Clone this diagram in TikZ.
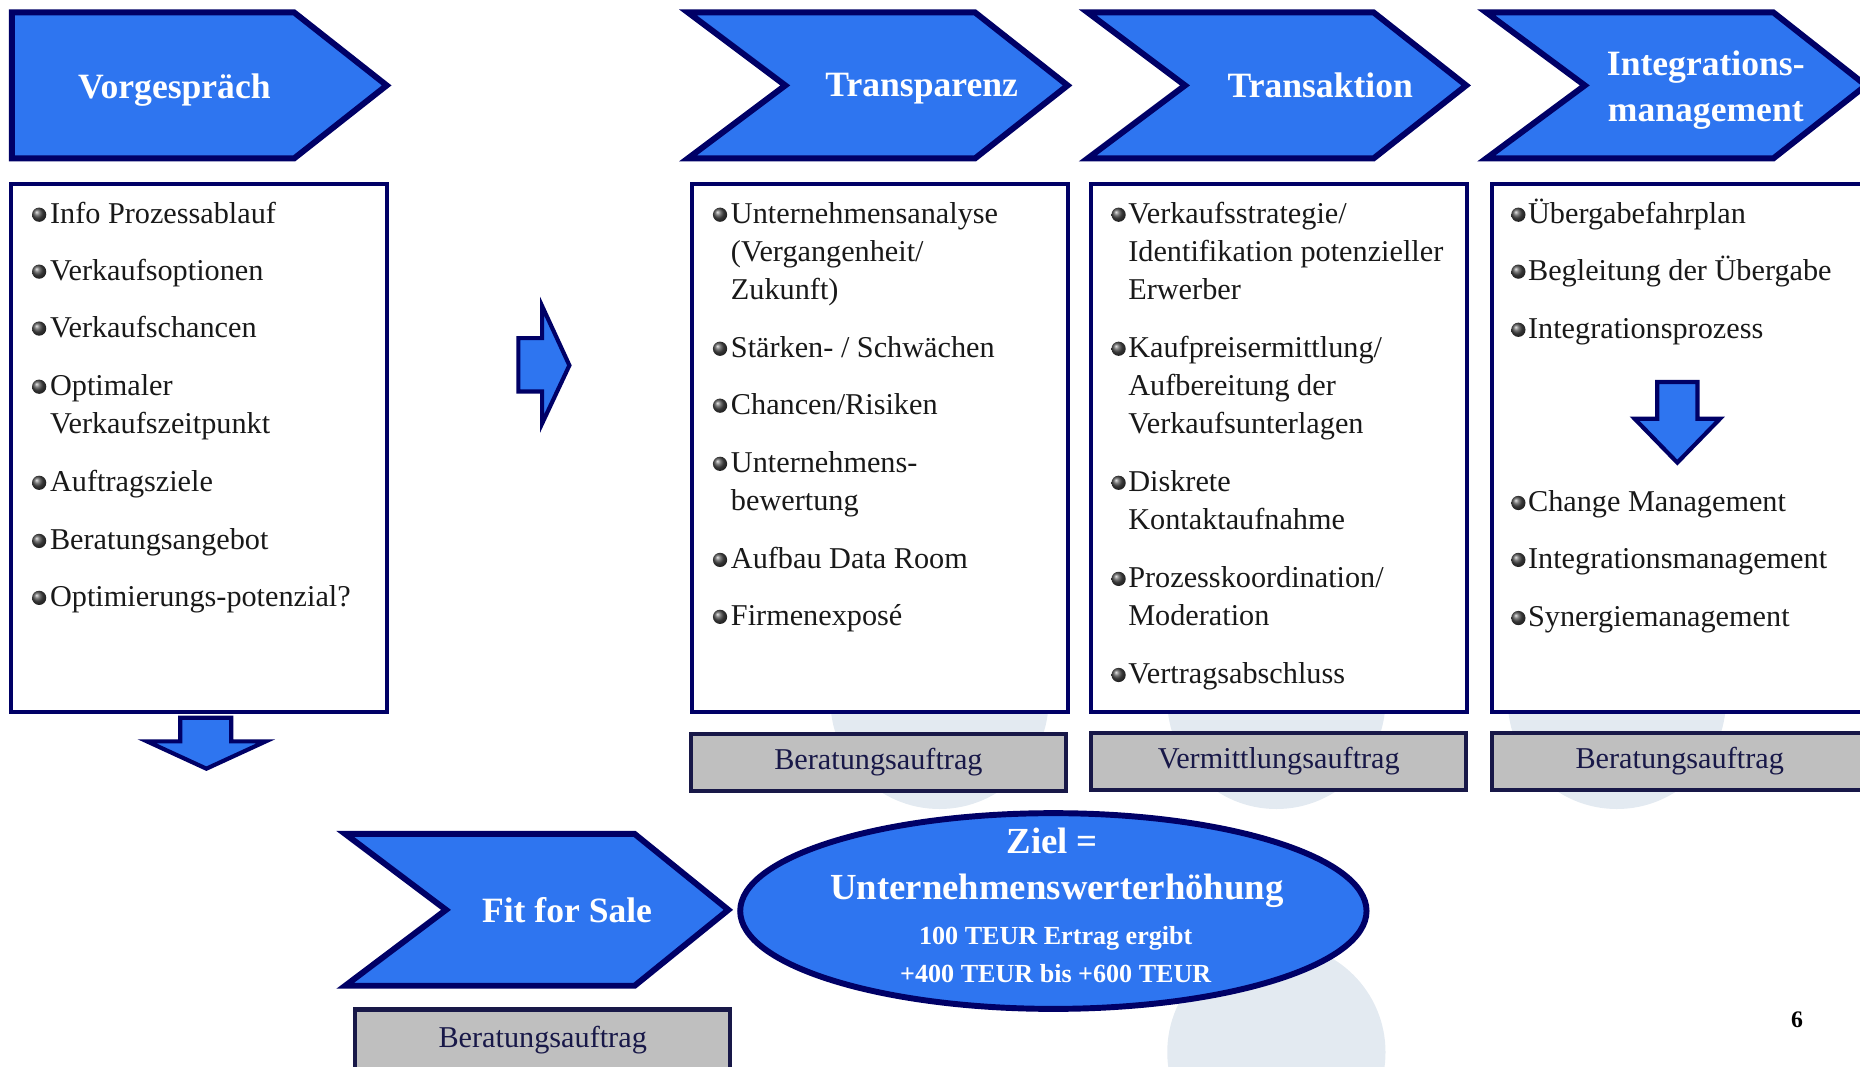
\documentclass[tikz,border=0pt]{standalone}
\usepackage{fontspec}
\setmainfont{Liberation Serif}
\usetikzlibrary{shapes.geometric}
\definecolor{prozessblau}{RGB}{46,117,240}
\definecolor{rahmen}{RGB}{0,0,102}
\definecolor{auftraggrau}{RGB}{191,191,191}
\definecolor{auftragrand}{RGB}{24,24,72}
\definecolor{hintergrund}{RGB}{227,234,241}
\tikzset{
  kopf/.style={fill=prozessblau, draw=rahmen, line width=5pt, line join=miter},
  kopftext/.style={text=white, font=\fontsize{30}{39}\selectfont\bfseries, align=center},
  liste/.style={draw=rahmen, fill=white, line width=3.5pt, minimum width=317, minimum height=445, inner sep=0pt},
  punkt/.style={anchor=west, inner sep=0pt, yshift=-6pt, text=black!90, font=\fontsize{25.5}{32}\selectfont, text height=0.7em, text depth=0.25em},
  auftrag/.style={draw=auftragrand, fill=auftraggrau, line width=3.5pt, minimum width=316, minimum height=48, inner sep=0pt, text=auftragrand, font=\fontsize{25.5}{32}\selectfont},
  blockpfeil/.style={fill=prozessblau, draw=rahmen, line width=3.5pt, line join=miter},
  zieltext/.style={text=white, inner sep=0pt, text height=0.7em, text depth=0.25em},
}
\newcommand{\kugel}[2]{\shade[ball color=black!70] (#1,#2) circle (6);}

\begin{document}
\begin{tikzpicture}[x=1pt,y=-1pt]
	\useasboundingbox (0,0) rectangle (1568,899);
	\clip (0,0) rectangle (1568,899);
	\foreach \cx/\cy in {792/590, 1076/590, 1363/590, 1076/887}
		\fill[hintergrund] (\cx,\cy) circle (92);

	\draw[kopf] (10,10.5) -- (248,10.5) -- (326,72) -- (248,133.5) -- (10,133.5) -- cycle;
	\draw[kopf] (580,10.5) -- (822,10.5) -- (900,72) -- (822,133.5) -- (580,133.5) -- (662,72) -- cycle;
	\draw[kopf] (917,10.5) -- (1158,10.5) -- (1236,72) -- (1158,133.5) -- (917,133.5) -- (999,72) -- cycle;
	\draw[kopf] (1253,10.5) -- (1495,10.5) -- (1573,72) -- (1495,133.5) -- (1253,133.5) -- (1336,72) -- cycle;
	\draw[kopf] (291,703) -- (535,703) -- (614,767) -- (535,831) -- (291,831) -- (376,767) -- cycle;
	\node[kopftext] (vorgespraech) at (147,76) {Vorgespräch};
	\node[kopftext] (transparenz) at (777,75) {Transparenz};
	\node[kopftext] (transaktion) at (1113,72) {Transaktion};
	\node[kopftext] (integration) at (1438,76) {Integrations-\\management};
	\node[kopftext] (fitforsale) at (478,767) {Fit for Sale};

	\node[liste] (liste1) at (168,377.5) {};
	\node[liste] (liste2) at (742,377.5) {};
	\node[liste] (liste3) at (1078,377.5) {};
	\node[liste] (liste4) at (1416,377.5) {};

	\foreach \y/\txt in {180/{Info Prozessablauf}, 228/{Verkaufsoptionen}, 276/{Verkaufschancen}, 325/{Optimaler}, 357/{Verkaufszeitpunkt}, 406/{Auftragsziele}, 455/{Beratungsangebot}, 503/{Optimierungs-potenzial?}}
		\node[punkt] (v\y) at (42,\y) {\txt};
	\foreach \y in {180,228,276,325,406,455,503} {\kugel{33}{\y+1}}

	\foreach \y/\txt in {180/{Unternehmensanalyse}, 212/{(Vergangenheit/}, 244/{Zukunft)}, 293/{Stärken- / Schwächen}, 341/{Chancen/Risiken}, 390/{Unternehmens-}, 422/{bewertung}, 471/{Aufbau Data Room}, 519/{Firmenexposé}}
		\node[punkt] (t\y) at (616,\y) {\txt};
	\foreach \y in {180,293,341,390,471,519} {\kugel{607}{\y+1}}

	\foreach \y/\txt in {180/{Verkaufsstrategie/}, 212/{Identifikation potenzieller}, 244/{Erwerber}, 293/{Kaufpreisermittlung/}, 325/{Aufbereitung der}, 357/{Verkaufsunterlagen}, 406/{Diskrete}, 438/{Kontaktaufnahme}, 487/{Prozesskoordination/}, 519/{Moderation}, 568/{Vertragsabschluss}}
		\node[punkt] (k\y) at (951,\y) {\txt};
	\foreach \y in {180,293,406,487,568} {\kugel{943}{\y+1}}

	\foreach \y/\txt in {180/{Übergabefahrplan}, 228/{Begleitung der Übergabe}, 277/{Integrationsprozess}, 423/{Change Management}, 471/{Integrationsmanagement}, 520/{Synergiemanagement}}
		\node[punkt] (i\y) at (1288,\y) {\txt};
	\foreach \y in {180,228,277,423,471,520} {\kugel{1280}{\y+1}}

	\draw[blockpfeil] (152,605) -- (195,605) -- (195,625) -- (224,625) -- (174,648) -- (124,625) -- (152,625) -- cycle;
	\draw[blockpfeil] (437,285) -- (457,285) -- (457,258) -- (480,308) -- (457,357) -- (457,330) -- (437,330) -- cycle;
	\draw[blockpfeil] (1397,322) -- (1431,322) -- (1431,353) -- (1450,353) -- (1414,390) -- (1378,353) -- (1397,353) -- cycle;

	\node[auftrag] (auftrag1) at (740.5,642.5) {Beratungsauftrag};
	\node[auftrag] (auftrag2) at (1078,642) {Vermittlungsauftrag};
	\node[auftrag] (auftrag3) at (1416,642) {Beratungsauftrag};
	\node[auftrag, minimum height=52] (auftrag4) at (457.5,877) {Beratungsauftrag};

	\node[ellipse, fill=prozessblau, draw=rahmen, line width=5pt, minimum width=528, minimum height=165, inner sep=0pt] (ziel) at (888,768) {};
	\node[zieltext, font=\fontsize{31}{39}\selectfont\bfseries] (ziel1) at (887,717) {Ziel =};
	\node[zieltext, font=\fontsize{31}{39}\selectfont\bfseries] (ziel2) at (891,756) {Unternehmenswerterhöhung};
	\node[zieltext, font=\fontsize{22}{30}\selectfont\bfseries] (ziel3) at (890,794) {100 TEUR Ertrag ergibt};
	\node[zieltext, font=\fontsize{22}{30}\selectfont\bfseries] (ziel4) at (890,826) {+400 TEUR bis +600 TEUR};

	\node[font=\fontsize{20}{24}\selectfont\bfseries] (seite) at (1515,860) {6};
\end{tikzpicture}
\end{document}
